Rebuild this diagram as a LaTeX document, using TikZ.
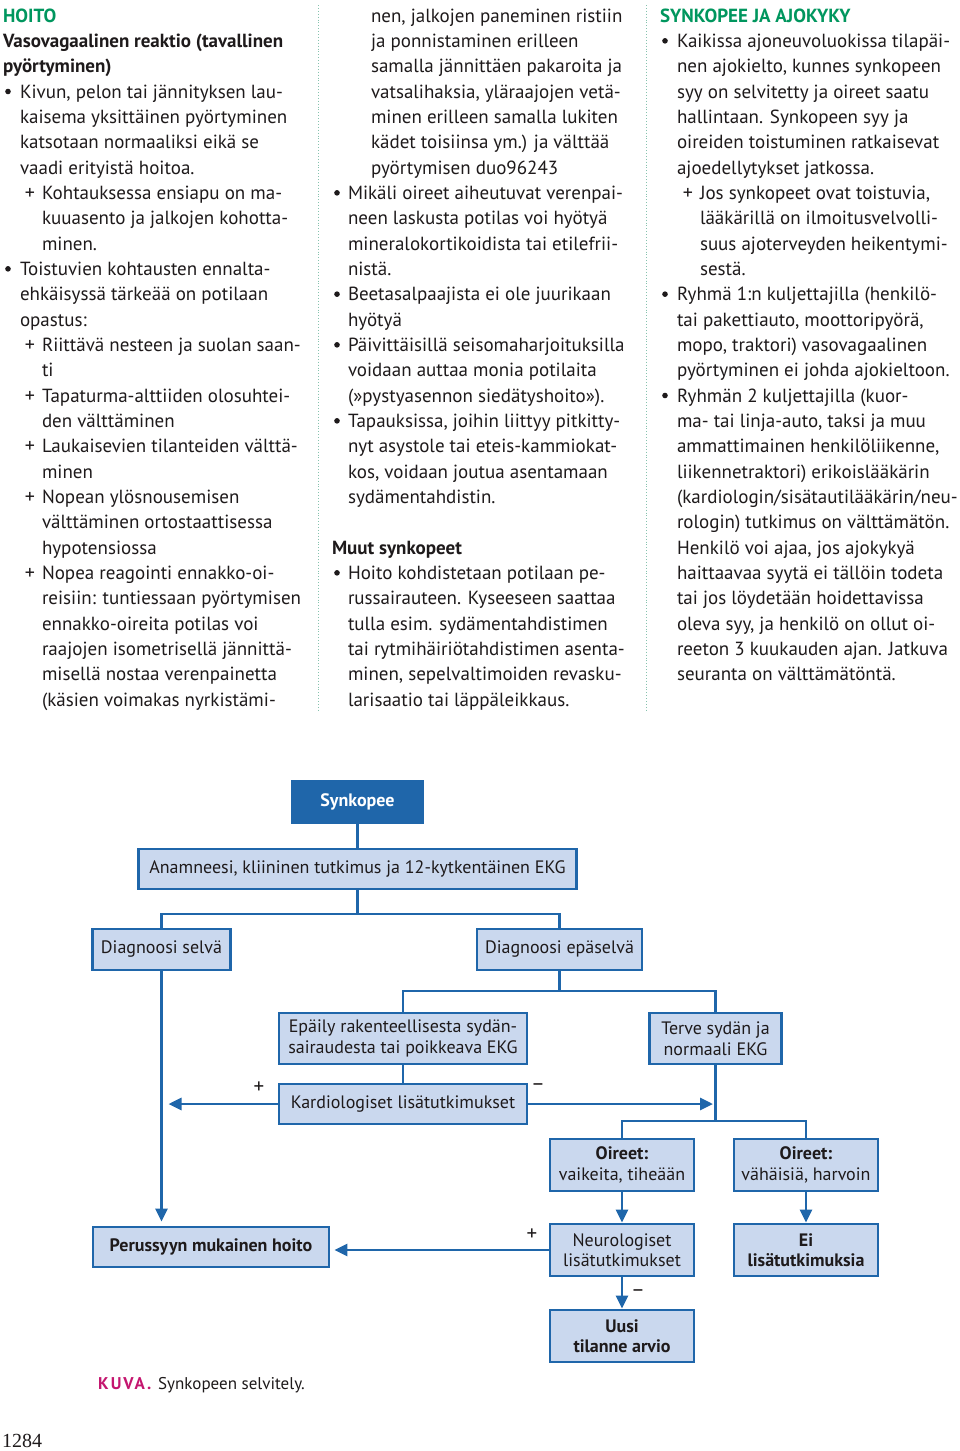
\documentclass[tikz,border=0pt]{standalone}
\usepackage{fontspec}
\setmainfont{PT Sans}
\newfontfamily\flowfont{PT Sans}
\newfontfamily\pagefont{Liberation Serif}
\usetikzlibrary{arrows.meta}
\definecolor{hgreen}{HTML}{00965E}
\definecolor{tcol}{HTML}{1E1A1B}
\definecolor{bblue}{HTML}{1F66AA}
\definecolor{bfill}{HTML}{CAD8EE}
\definecolor{kmag}{HTML}{C4166F}
\definecolor{sepgreen}{HTML}{86C2AE}
\newcommand\TLine[5][txt]{\node[#1] (#2) at (#3,{22+25.333*#4}) {#5};}
\newcommand\BLt[3]{\node[bul] (#1) at (#2,{15.5+25.333*#3}) {};}
\newcommand\PLs[3]{\node[pls] (#1) at (#2,{22+25.333*#3}) {+};}
\begin{document}
\begin{tikzpicture}[x=1pt,y=-1pt,
  txt/.style={anchor=base west,inner sep=0pt,outer sep=0pt,text=tcol,font=\fontsize{19}{22}\selectfont},
  hd/.style={txt,font=\fontsize{19}{22}\selectfont\bfseries},
  ghd/.style={txt,text=hgreen,font=\fontsize{19}{22}\selectfont\bfseries},
  bul/.style={circle,fill=tcol,inner sep=0pt,outer sep=0pt,minimum size=5.6pt},
  pls/.style={anchor=base,inner sep=0pt,outer sep=0pt,text=tcol,font=\fontsize{20}{22}\selectfont},
  box/.style={draw=bblue,line width=2.9pt,fill=bfill,inner sep=0pt,align=center,text=tcol,font=\flowfont\fontsize{18}{20.5}\selectfont},
  conn/.style={draw=bblue,line width=2.9pt},
  arr/.style={conn,-{Triangle[length=13pt,width=12pt]}},
  lbl/.style={inner sep=0pt,text=tcol,font=\flowfont\fontsize{21}{22}\selectfont}]
\fill[white] (0,0) rectangle (960,1451);
\path[use as bounding box] (0,0) rectangle (960,1451);
% separators
\draw[sepgreen,line width=0.9pt,dotted] (318,5) -- (318,712);
\draw[sepgreen,line width=0.9pt,dotted] (646,5) -- (646,712);
% ---------- column 1
\TLine[ghd]{a0}{3}{0}{HOITO}
\TLine[hd]{a1}{3}{1}{Vasovagaalinen reaktio (tavallinen}
\TLine[hd]{a2}{3}{2}{pyörtyminen)}
\BLt{ab3}{8}{3}
\TLine{a3}{20}{3}{Kivun, pelon tai jännityksen lau-}
\TLine{a4}{20}{4}{kaisema yksittäinen pyörtyminen}
\TLine{a5}{20}{5}{katsotaan normaaliksi eikä se}
\TLine{a6}{20}{6}{vaadi erityistä hoitoa.}
\PLs{ap7}{30}{7}
\TLine{a7}{42}{7}{Kohtauksessa ensiapu on ma-}
\TLine{a8}{42}{8}{kuuasento ja jalkojen kohotta-}
\TLine{a9}{42}{9}{minen.}
\BLt{ab10}{8}{10}
\TLine{a10}{20}{10}{Toistuvien kohtausten ennalta-}
\TLine{a11}{20}{11}{ehkäisyssä tärkeää on potilaan}
\TLine{a12}{20}{12}{opastus:}
\PLs{ap13}{30}{13}
\TLine{a13}{42}{13}{Riittävä nesteen ja suolan saan-}
\TLine{a14}{42}{14}{ti}
\PLs{ap15}{30}{15}
\TLine{a15}{42}{15}{Tapaturma-alttiiden olosuhtei-}
\TLine{a16}{42}{16}{den välttäminen}
\PLs{ap17}{30}{17}
\TLine{a17}{42}{17}{Laukaisevien tilanteiden välttä-}
\TLine{a18}{42}{18}{minen}
\PLs{ap19}{30}{19}
\TLine{a19}{42}{19}{Nopean ylösnousemisen}
\TLine{a20}{42}{20}{välttäminen ortostaattisessa}
\TLine{a21}{42}{21}{hypotensiossa}
\PLs{ap22}{30}{22}
\TLine{a22}{42}{22}{Nopea reagointi ennakko-oi-}
\TLine{a23}{42}{23}{reisiin: tuntiessaan pyörtymisen}
\TLine{a24}{42}{24}{ennakko-oireita potilas voi}
\TLine{a25}{42}{25}{raajojen isometrisellä jännittä-}
\TLine{a26}{42}{26}{misellä nostaa verenpainetta}
\TLine{a27}{42}{27}{(käsien voimakas nyrkistämi-}
% ---------- column 2
\TLine{b0}{371}{0}{nen, jalkojen paneminen ristiin}
\TLine{b1}{371}{1}{ja ponnistaminen erilleen}
\TLine{b2}{371}{2}{samalla jännittäen pakaroita ja}
\TLine{b3}{371}{3}{vatsalihaksia, yläraajojen vetä-}
\TLine{b4}{371}{4}{minen erilleen samalla lukiten}
\TLine{b5}{371}{5}{kädet toisiinsa ym.) ja välttää}
\TLine{b6}{371}{6}{pyörtymisen duo96243}
\BLt{bb7}{337}{7}
\TLine{b7}{348}{7}{Mikäli oireet aiheutuvat verenpai-}
\TLine{b8}{348}{8}{neen laskusta potilas voi hyötyä}
\TLine{b9}{348}{9}{mineralokortikoidista tai etilefrii-}
\TLine{b10}{348}{10}{nistä.}
\BLt{bb11}{337}{11}
\TLine{b11}{348}{11}{Beetasalpaajista ei ole juurikaan}
\TLine{b12}{348}{12}{hyötyä}
\BLt{bb13}{337}{13}
\TLine{b13}{348}{13}{Päivittäisillä seisomaharjoituksilla}
\TLine{b14}{348}{14}{voidaan auttaa monia potilaita}
\TLine{b15}{348}{15}{(»pystyasennon siedätyshoito»).}
\BLt{bb16}{337}{16}
\TLine{b16}{348}{16}{Tapauksissa, joihin liittyy pitkitty-}
\TLine{b17}{348}{17}{nyt asystole tai eteis-kammiokat-}
\TLine{b18}{348}{18}{kos, voidaan joutua asentamaan}
\TLine{b19}{348}{19}{sydämentahdistin.}
\TLine[hd]{b21}{332}{21}{Muut synkopeet}
\BLt{bb22}{337}{22}
\TLine{b22}{348}{22}{Hoito kohdistetaan potilaan pe-}
\TLine{b23}{348}{23}{russairauteen. Kyseeseen saattaa}
\TLine{b24}{348}{24}{tulla esim. sydämentahdistimen}
\TLine{b25}{348}{25}{tai rytmihäiriötahdistimen asenta-}
\TLine{b26}{348}{26}{minen, sepelvaltimoiden revasku-}
\TLine{b27}{348}{27}{larisaatio tai läppäleikkaus.}
% ---------- column 3
\TLine[ghd]{c0}{660}{0}{SYNKOPEE JA AJOKYKY}
\BLt{cb1}{665}{1}
\TLine{c1}{677}{1}{Kaikissa ajoneuvoluokissa tilapäi-}
\TLine{c2}{677}{2}{nen ajokielto, kunnes synkopeen}
\TLine{c3}{677}{3}{syy on selvitetty ja oireet saatu}
\TLine{c4}{677}{4}{hallintaan. Synkopeen syy ja}
\TLine{c5}{677}{5}{oireiden toistuminen ratkaisevat}
\TLine{c6}{677}{6}{ajoedellytykset jatkossa.}
\PLs{cp7}{688}{7}
\TLine{c7}{700}{7}{Jos synkopeet ovat toistuvia,}
\TLine{c8}{700}{8}{lääkärillä on ilmoitusvelvolli-}
\TLine{c9}{700}{9}{suus ajoterveyden heikentymi-}
\TLine{c10}{700}{10}{sestä.}
\BLt{cb11}{665}{11}
\TLine{c11}{677}{11}{Ryhmä 1:n kuljettajilla (henkilö-}
\TLine{c12}{677}{12}{tai pakettiauto, moottoripyörä,}
\TLine{c13}{677}{13}{mopo, traktori) vasovagaalinen}
\TLine{c14}{677}{14}{pyörtyminen ei johda ajokieltoon.}
\BLt{cb15}{665}{15}
\TLine{c15}{677}{15}{Ryhmän 2 kuljettajilla (kuor-}
\TLine{c16}{677}{16}{ma- tai linja-auto, taksi ja muu}
\TLine{c17}{677}{17}{ammattimainen henkilöliikenne,}
\TLine{c18}{677}{18}{liikennetraktori) erikoislääkärin}
\TLine{c19}{677}{19}{(kardiologin/sisätautilääkärin/neu-}
\TLine{c20}{677}{20}{rologin) tutkimus on välttämätön.}
\TLine{c21}{677}{21}{Henkilö voi ajaa, jos ajokykyä}
\TLine{c22}{677}{22}{haittaavaa syytä ei tällöin todeta}
\TLine{c23}{677}{23}{tai jos löydetään hoidettavissa}
\TLine{c24}{677}{24}{oleva syy, ja henkilö on ollut oi-}
\TLine{c25}{677}{25}{reeton 3 kuukauden ajan. Jatkuva}
\TLine{c26}{677}{26}{seuranta on välttämätöntä.}
% ---------- flowchart
\node[box,fill=bblue,text=white,font=\flowfont\fontsize{18}{20.5}\selectfont\bfseries,minimum width=130pt,minimum height=41pt] (syn) at (357.5,802) {Synkopee};
\node[box,minimum width=438pt,minimum height=40pt] (ana) at (357.5,869) {Anamneesi, kliininen tutkimus ja 12-kytkentäinen EKG};
\node[box,minimum width=138pt,minimum height=41pt] (dsel) at (161.5,949.5) {Diagnoosi selvä};
\node[box,minimum width=165pt,minimum height=41pt] (deps) at (559.5,949.5) {Diagnoosi epäselvä};
\node[box,minimum width=248pt,minimum height=51pt] (epa) at (403,1038.5) {Epäily rakenteellisesta sydän-\\sairaudesta tai poikkeava EKG};
\node[box,minimum width=132pt,minimum height=51pt] (ter) at (715.5,1038.5) {Terve sydän ja\\normaali EKG};
\node[box,minimum width=248pt,minimum height=40pt] (kar) at (403,1104) {Kardiologiset lisätutkimukset};
\node[box,font=\flowfont\fontsize{18}{20.5}\selectfont\bfseries,minimum width=236pt,minimum height=40pt] (per) at (211,1247) {Perussyyn mukainen hoito};
\node[box,minimum width=144pt,minimum height=52pt] (oiv) at (622,1165) {\textbf{Oireet:}\\vaikeita, tiheään};
\node[box,minimum width=144pt,minimum height=52pt] (oih) at (806,1165) {\textbf{Oireet:}\\vähäisiä, harvoin};
\node[box,minimum width=144pt,minimum height=52pt] (neu) at (622,1250) {Neurologiset\\lisätutkimukset};
\node[box,font=\flowfont\fontsize{18}{20.5}\selectfont\bfseries,minimum width=144pt,minimum height=52pt] (ei) at (806,1250) {Ei\\lisätutkimuksia};
\node[box,font=\flowfont\fontsize{18}{20.5}\selectfont\bfseries,minimum width=144pt,minimum height=52pt] (uus) at (622,1336) {Uusi\\tilanne arvio};
\coordinate (j1) at (357.5,914);
\coordinate (j2) at (559.5,991);
\coordinate (j3) at (715.5,1121);
\draw[conn] (syn.south) -- (ana.north);
\draw[conn] (ana.south) -- (j1);
\draw[conn] (dsel.north) |- (j1) -| (deps.north);
\draw[conn] (deps.south) -- (j2);
\draw[conn] (epa.north) |- (j2) -| (ter.north);
\draw[conn] (epa.south) -- (kar.north);
\draw[conn] (ter.south) -- (j3);
\draw[conn] (oiv.north) |- (j3) -| (oih.north);
\draw[arr,shorten >=7pt] (kar.west) -- (kar.west -| dsel.south);
\draw[arr,shorten >=2.5pt] (kar.east) -- (kar.east -| ter.south);
\draw[arr,shorten >=4pt] (dsel.south) -- (dsel.south |- per.north);
\draw[arr] (oiv.south) -- (neu.north);
\draw[arr] (oih.south) -- (ei.north);
\draw[arr,shorten >=4pt] (neu.west) -- (neu.west -| per.east);
\draw[arr] (neu.south) -- (uus.north);
\node[lbl] (lp1) at (259,1088) {+};
\node[lbl] (lm1) at (538,1087) {–};
\node[lbl] (lp2) at (532,1235) {+};
\node[lbl] (lm2) at (638,1293) {–};
% caption
\node[anchor=base west,inner sep=0pt,text=kmag,font=\flowfont\fontsize{17}{20}\selectfont\bfseries\addfontfeatures{LetterSpace=12}] (kuva) at (98,1389) {KUVA.};
\node[anchor=base west,inner sep=0pt,text=tcol,font=\flowfont\fontsize{17}{20}\selectfont] (capt) at (158,1389) {Synkopeen selvitely.};
\node[anchor=base west,inner sep=0pt,text=tcol,font=\pagefont\fontsize{20}{22}\selectfont] (pnum) at (2,1447) {1284};
\end{tikzpicture}
\end{document}
